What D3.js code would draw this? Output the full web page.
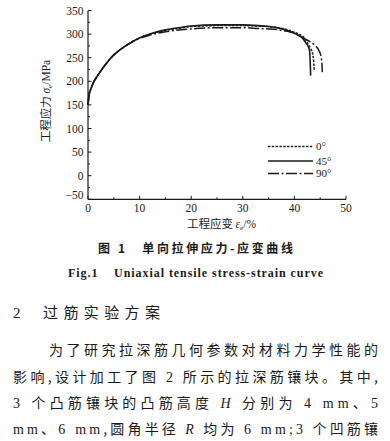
<!DOCTYPE html>
<html><head><meta charset="utf-8">
<script src="https://cdn.jsdelivr.net/npm/d3@7"></script>
<style>
body{margin:0;background:#fff;}
svg{display:block;}
</style></head>
<body>
<svg id="c" width="390" height="441"></svg>
<script>
// ---- data ----
const xTicks = [0,10,20,30,40,50];
const yTicks = [-50,0,50,100,150,200,250,300,350];
const seriesNames = ["0°","45°","90°"];

const eps0 = [0,0.2,0.5,1,2,3,4,5,6,7,8,10,12,15,18,20,25,30,33,35,37,38,39,40,41,42,42.7,43.2,43.55,43.75,43.85];
const sig0 = [150,170,182,196,214,230,244,256,265,273,280,292,300,308,313,316,318,318,317,316,313,311,308,304,299,291,278,268,258,240,224];

const eps45 = [0,0.2,0.5,1,2,3,4,5,6,7,8,10,12,15,18,20,25,30,33,35,37,38,39,40,41,41.4,42.25,42.9,43.05,43.15];
const sig45 = [150,170,182,196,214,230,244,256,265,273,280,292,300,309,314,317,319.5,319.5,318,316,313,310,306,302,296,293,281,267,245,212];

const eps90 = [0,0.2,0.5,1,2,3,4,5,6,7,8,10,12,15,18,20,25,30,33,35,37,38,39,40,41,42,43,43.8,44.5,44.9,45.2,45.35,45.4];
const sig90 = [150,170,182,196,214,230,244,256,265,273,280,291,298,305,309,311,313.5,313.5,312,311,309,307,305,302,296,290,284,278,270,262,250,235,219];

// ---- layout ----
const svg = d3.select("#c");
const x = d3.scaleLinear().domain([0,50]).range([88,346]);
const y = d3.scaleLinear().domain([-50,350]).range([199.3,10.5]);
const ink = "#1a1a1a";
const serif = "'Liberation Serif','Times New Roman',serif";
const cjk = "'Noto Sans CJK SC','Noto Sans CJK JP',sans-serif";

// axes lines
svg.append("line").attr("x1",x(0)).attr("x2",x(0)).attr("y1",y(350)).attr("y2",y(-50)).attr("stroke",ink).attr("stroke-width",1.2);
svg.append("line").attr("x1",x(0)).attr("x2",x(50)).attr("y1",y(-50)).attr("y2",y(-50)).attr("stroke",ink).attr("stroke-width",1.2);

// ticks (inward)
d3.range(0,51,5).forEach(v=>{
  const major = v%10===0;
  svg.append("line").attr("x1",x(v)).attr("x2",x(v)).attr("y1",y(-50)).attr("y2",y(-50)-(major?3.5:2))
    .attr("stroke",ink).attr("stroke-width",1);
});
d3.range(-50,351,25).forEach(v=>{
  const major = v%50===0;
  svg.append("line").attr("x1",x(0)).attr("x2",x(0)+(major?3.5:2)).attr("y1",y(v)).attr("y2",y(v))
    .attr("stroke",ink).attr("stroke-width",1);
});

// tick labels
svg.selectAll(".xl").data(xTicks).enter().append("text")
  .attr("x",d=>x(d)).attr("y",212).attr("text-anchor","middle")
  .attr("font-family",serif).attr("font-size",11.5).attr("fill",ink).text(d=>d);
svg.selectAll(".yl").data(yTicks).enter().append("text")
  .attr("x",83.5).attr("y",d=>y(d)+4 - (d===-50?4:0)).attr("text-anchor","end")
  .attr("font-family",serif).attr("font-size",11.5).attr("fill",ink).text(d=>d<0?"−"+(-d):d);

// axis titles
const xt = svg.append("text").attr("x",221.5).attr("y",228).attr("text-anchor","middle")
  .attr("font-size",11.5).attr("fill",ink);
xt.append("tspan").attr("font-family",cjk).text("工程应变 ");
xt.append("tspan").attr("font-family",serif).attr("font-style","italic").text("ε");
xt.append("tspan").attr("font-family",serif).attr("font-size",7).attr("dy",2).text("e");
xt.append("tspan").attr("font-family",serif).attr("dy",-2).text("/%");

const yt = svg.append("text").attr("transform","translate(50,101) rotate(-90)").attr("text-anchor","middle")
  .attr("font-size",11.5).attr("fill",ink);
yt.append("tspan").attr("font-family",cjk).text("工程应力 ");
yt.append("tspan").attr("font-family",serif).attr("font-style","italic").text("σ");
yt.append("tspan").attr("font-family",serif).attr("font-size",7).attr("dy",2).text("e");
yt.append("tspan").attr("font-family",serif).attr("dy",-2).text("/MPa");

// curves
const styles = [
  {dash:"2.4,1.4", w:1.5},
  {dash:null, w:1.6},
  {dash:"11,2.5,2,2.5", w:1.5}
];
const series = [
  eps0.map((e,i)=>[e,sig0[i]]),
  eps45.map((e,i)=>[e,sig45[i]]),
  eps90.map((e,i)=>[e,sig90[i]])
];
const line = d3.line().x(d=>x(d[0])).y(d=>y(d[1])).curve(d3.curveMonotoneX);
series.forEach((s,i)=>{
  const p = svg.append("path").attr("d",line(s)).attr("fill","none").attr("stroke",ink).attr("stroke-width",styles[i].w);
  if(styles[i].dash) p.attr("stroke-dasharray",styles[i].dash);
});

// legend
const legY = [146.5,161,173.5];
seriesNames.forEach((n,i)=>{
  const l = svg.append("line").attr("x1",268).attr("x2",313).attr("y1",legY[i]).attr("y2",legY[i])
    .attr("stroke",ink).attr("stroke-width",styles[i].w);
  if(styles[i].dash) l.attr("stroke-dasharray",styles[i].dash);
  svg.append("text").attr("x",316).attr("y",legY[i]+3.8).attr("font-family",serif).attr("font-size",11).attr("fill",ink).text(n);
});

// captions
svg.append("text").attr("x",98).attr("y",252.5).attr("font-family",cjk).attr("font-weight","bold")
  .attr("font-size",12).attr("fill",ink).attr("textLength",195).attr("lengthAdjust","spacing")
  .text("图 1　单向拉伸应力-应变曲线");
svg.append("text").attr("x",68).attr("y",276.5).attr("font-family",serif).attr("font-weight","bold")
  .attr("font-size",12).attr("fill",ink).attr("textLength",255).attr("lengthAdjust","spacing")
  .attr("xml:space","preserve")
  .text("Fig.1    Uniaxial tensile stress-strain curve");

// heading
svg.append("text").attr("x",13).attr("y",317.5).attr("font-family",serif).attr("font-size",15).attr("fill",ink).text("2");
svg.append("text").attr("x",43).attr("y",317.5).attr("font-family",cjk).attr("font-size",15).attr("fill",ink)
  .attr("textLength",117).attr("lengthAdjust","spacing").text("过筋实验方案");

// paragraph
function para(xs, yb, len, parts){
  const t = svg.append("text").attr("x",xs).attr("y",yb).attr("font-size",14).attr("fill",ink)
    .attr("textLength",len).attr("lengthAdjust","spacing").attr("xml:space","preserve");
  parts.forEach(p=>{
    const s = t.append("tspan").attr("font-family",p.s?serif:cjk).text(p.t);
    if(p.i) s.attr("font-style","italic");
  });
}
para(49,355,329,[{t:"为了研究拉深筋几何参数对材料力学性能的"}]);
para(13,381.5,365,[{t:"影响,设计加工了图 "},{t:"2",s:1},{t:" 所示的拉深筋镶块。其中,"}]);
para(13,408,365,[{t:"3",s:1},{t:" 个凸筋镶块的凸筋高度 "},{t:"H",s:1,i:1},{t:" 分别为 "},{t:"4 mm",s:1},{t:"、"},{t:"5",s:1}]);
para(13,434,365,[{t:"mm",s:1},{t:"、"},{t:"6 mm",s:1},{t:",圆角半径 "},{t:"R",s:1,i:1},{t:" 均为 "},{t:"6 mm;3",s:1},{t:" 个凹筋镶"}]);
</script>
</body></html>
